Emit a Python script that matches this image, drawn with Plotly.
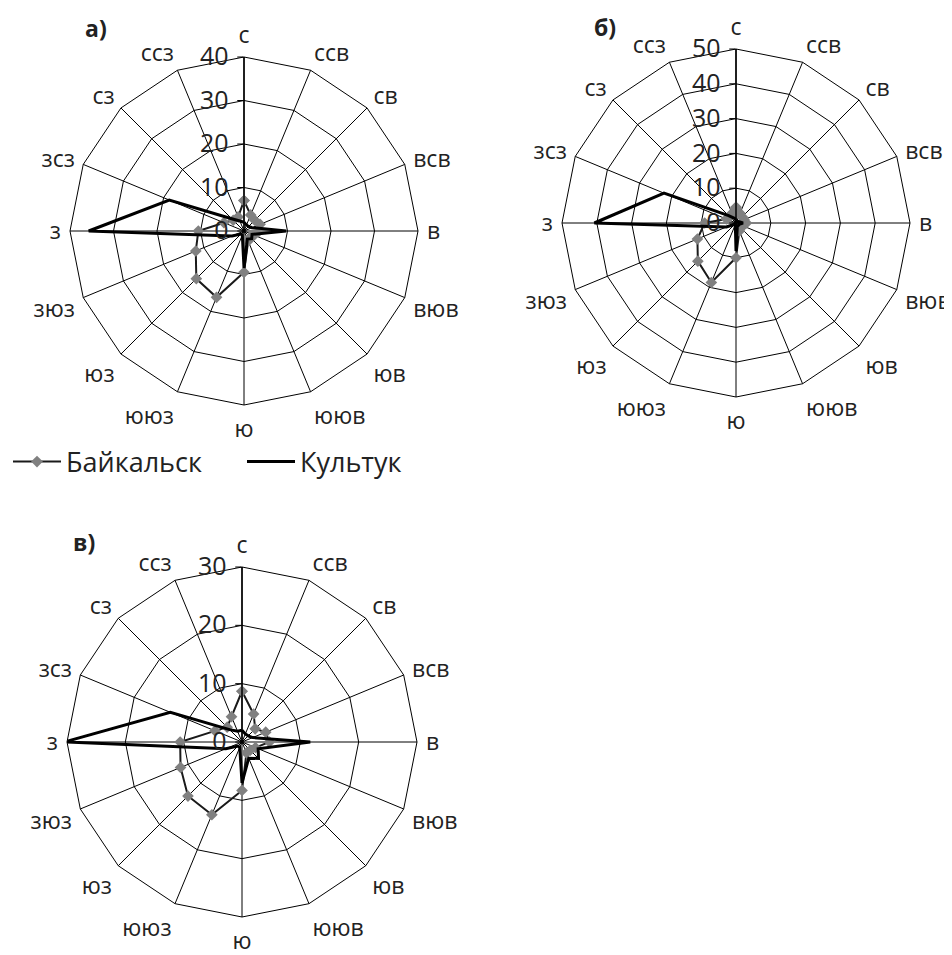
import plotly.graph_objects as go

directions = ["с", "ссв", "св", "всв", "в", "вюв", "юв", "ююв",
              "ю", "ююз", "юз", "зюз", "з", "зсз", "сз", "ссз"]

# a)
baikalsk_a = [7, 4, 3.5, 4, 3.5, 2.5, 2, 2.5, 9.5, 16.5, 15.5, 12, 10.5, 5, 3.5, 3.5]
kultuk_a = [2, 1.5, 1.5, 2, 9.7, 2, 2.5, 2, 8.5, 1, 1, 3, 35.7, 18.6, 4, 2.5]
# б)
baikalsk_b = [4.5, 3, 2.5, 2.5, 3, 2, 2, 2.5, 10, 18.5, 15.5, 12, 9, 3, 2.5, 3]
kultuk_b = [1, 0.5, 0.5, 1, 2, 1, 1, 1, 8, 0.5, 0.5, 3, 40.7, 22.4, 3, 1.5]
# в)
baikalsk_c = [8.7, 5.2, 3.2, 4.4, 4.7, 2.5, 2, 2, 8.3, 13.5, 13.1, 11.4, 10.6, 5, 3.6, 4.7]
kultuk_c = [2, 1.5, 1.5, 2, 11.7, 3, 4, 3, 7, 1, 1, 3, 30.5, 13.3, 3, 2]

ranges = [40, 50, 30]
panel_labels = ["а)", "б)", "в)"]

W, H = 952, 955
OX, OY = 8, 8  # page body margin offset


def closed(v):
    return list(v) + [v[0]]


def dom(cx, cy, r):
    cx -= OX
    cy -= OY
    return dict(x=[(cx - r) / W, (cx + r) / W], y=[1 - (cy + r) / H, 1 - (cy - r) / H])


theta = closed(directions)
fig = go.Figure()

sets = [(baikalsk_a, kultuk_a, "polar"), (baikalsk_b, kultuk_b, "polar2"), (baikalsk_c, kultuk_c, "polar3")]
for i, (b, k, sp) in enumerate(sets):
    fig.add_trace(go.Scatterpolar(
        r=closed(b), theta=theta, subplot=sp, name="Байкальск",
        mode="lines+markers",
        line=dict(color="#1a1a1a", width=2),
        marker=dict(symbol="diamond", size=9, color="#808080", line=dict(width=0)),
        showlegend=(i == 0), legendrank=1))
    fig.add_trace(go.Scatterpolar(
        r=closed(k), theta=theta, subplot=sp, name="Культук",
        mode="lines",
        line=dict(color="#000000", width=3),
        showlegend=(i == 0), legendrank=2))

domains = [dom(244, 231, 174), dom(736, 223, 174), dom(242, 742, 175)]

font_family = "Open Sans, Liberation Sans, sans-serif"


def polar_layout(d, rmax):
    return dict(
        domain=d,
        gridshape="linear",
        bgcolor="white",
        angularaxis=dict(
            rotation=90, direction="clockwise",
            categoryorder="array", categoryarray=directions,
            showline=True, linecolor="black", linewidth=1,
            gridcolor="black", gridwidth=1,
            ticks="outside", ticklen=4, tickcolor="rgba(0,0,0,0)",
            tickfont=dict(family=font_family, size=23, color="#222"),
        ),
        radialaxis=dict(
            range=[0, rmax], dtick=10, angle=90, tickangle=90,
            side="counterclockwise",
            showline=True, linecolor="black", linewidth=1.5,
            gridcolor="black", gridwidth=1,
            ticks="outside", ticklen=6, tickcolor="black",
            tickfont=dict(family=font_family, size=25, color="#222"),
        ),
    )


fig.update_layout(
    width=W, height=H,
    margin=dict(l=0, r=0, t=0, b=0),
    paper_bgcolor="white", plot_bgcolor="white",
    polar=polar_layout(domains[0], ranges[0]),
    polar2=polar_layout(domains[1], ranges[1]),
    polar3=polar_layout(domains[2], ranges[2]),
    legend=dict(orientation="h", x=0, y=1 - (462 - OY) / H, xanchor="left", yanchor="middle",
                font=dict(family=font_family, size=27, color="#222"),
                itemwidth=48,
                entrywidth=171, entrywidthmode="pixels",
                bgcolor="rgba(0,0,0,0)"),
    showlegend=True,
)

label_pos = [(96, 28), (605, 27), (84, 542)]
for txt, (px, py) in zip(panel_labels, label_pos):
    fig.add_annotation(text="<b>" + txt + "</b>", x=(px - OX) / W, y=1 - (py - OY) / H,
                       xref="paper", yref="paper", showarrow=False,
                       xanchor="center", yanchor="middle",
                       font=dict(family=font_family, size=23, color="#222"))

fig.write_html("out.html")
